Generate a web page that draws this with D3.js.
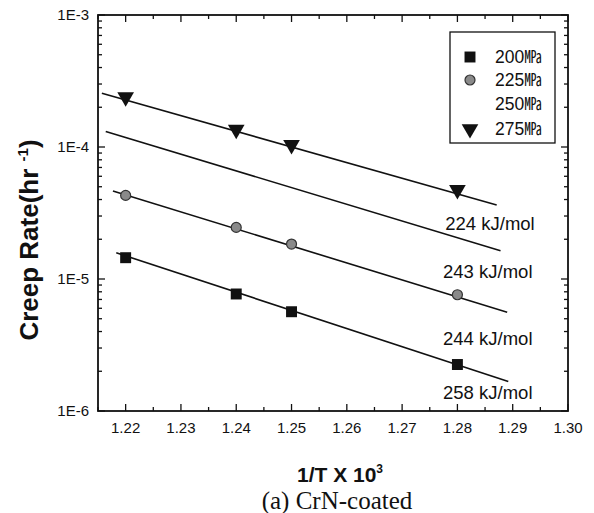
<!DOCTYPE html>
<html>
<head>
<meta charset="utf-8">
<script src="https://cdn.jsdelivr.net/npm/d3@7"></script>
<style>
  body { margin: 0; background: #fff; }
  text { font-family: Arial, "Liberation Sans", sans-serif; fill: #111; }
</style>
</head>
<body>
<svg id="chart" width="594" height="513"></svg>
<script>
// measured points (1/T x 10^3 vs creep rate)
const invT = [1.22, 1.24, 1.25, 1.28];
const rate200 = [1.45e-5, 7.7e-6, 5.65e-6, 2.25e-6];
const rate225 = [4.3e-5, 2.46e-5, 1.84e-5, 7.6e-6];
const rate275 = [2.35e-4, 1.33e-4, 1.02e-4, 4.65e-5];

// fitted lines: [start, end]
const fitX200 = [1.2183, 1.2892];
const fitY200 = [1.58e-5, 1.67e-6];
const fitX225 = [1.2177, 1.2890];
const fitY225 = [4.64e-5, 5.6e-6];
const fitX250 = [1.2164, 1.2878];
const fitY250 = [1.31e-4, 1.64e-5];
const fitX275 = [1.2157, 1.2871];
const fitY275 = [2.55e-4, 3.64e-5];

const energies = ["224 kJ/mol", "243 kJ/mol", "244 kJ/mol", "258 kJ/mol"];
const legendLabels = ["200㎫", "225㎫", "250㎫", "275㎫"];
const xTicks = [1.22, 1.23, 1.24, 1.25, 1.26, 1.27, 1.28, 1.29, 1.30];
const yTicks = [1e-6, 1e-5, 1e-4, 1e-3];

const svg = d3.select("#chart");
const pL = 98, pR = 568, pT = 15, pB = 411;

const x = d3.scaleLinear().domain([1.215, 1.30]).range([pL, pR]);
const y = d3.scaleLog().domain([1e-6, 1e-3]).range([pB, pT]);

// minor ticks
const xMinor = [1.215, 1.225, 1.235, 1.245, 1.255, 1.265, 1.275, 1.285, 1.295];
const yMinor = [];
[1e-6, 1e-5, 1e-4].forEach(d => { for (let k = 2; k <= 9; k++) yMinor.push(d * k); });

const g = svg.append("g").attr("stroke", "#111").attr("stroke-width", 1.3);
xTicks.forEach(v => {
  g.append("line").attr("x1", x(v)).attr("x2", x(v)).attr("y1", pB).attr("y2", pB - 7);
  g.append("line").attr("x1", x(v)).attr("x2", x(v)).attr("y1", pT).attr("y2", pT + 7);
});
xMinor.forEach(v => {
  g.append("line").attr("x1", x(v)).attr("x2", x(v)).attr("y1", pB).attr("y2", pB - 4);
  g.append("line").attr("x1", x(v)).attr("x2", x(v)).attr("y1", pT).attr("y2", pT + 4);
});
yTicks.forEach(v => {
  g.append("line").attr("x1", pL).attr("x2", pL + 7).attr("y1", y(v)).attr("y2", y(v));
  g.append("line").attr("x1", pR).attr("x2", pR - 7).attr("y1", y(v)).attr("y2", y(v));
});
yMinor.forEach(v => {
  g.append("line").attr("x1", pL).attr("x2", pL + 4).attr("y1", y(v)).attr("y2", y(v));
  g.append("line").attr("x1", pR).attr("x2", pR - 4).attr("y1", y(v)).attr("y2", y(v));
});

svg.append("rect")
  .attr("x", pL).attr("y", pT)
  .attr("width", pR - pL).attr("height", pB - pT)
  .attr("fill", "none").attr("stroke", "#111").attr("stroke-width", 1.8);

// tick labels
svg.append("g").selectAll("text").data(xTicks).join("text")
  .attr("x", d => x(d)).attr("y", 433)
  .attr("text-anchor", "middle").attr("font-size", 15)
  .text(d => d.toFixed(2));
svg.append("g").selectAll("text").data(yTicks).join("text")
  .attr("x", pL - 9).attr("y", d => y(d) + 5)
  .attr("text-anchor", "end").attr("font-size", 15)
  .text(d => "1E" + Math.round(Math.log10(d)));

// axis titles
const xt = svg.append("text").attr("x", 340).attr("y", 482)
  .attr("text-anchor", "middle").attr("font-size", 21).attr("font-weight", "bold");
xt.append("tspan").text("1/T X 10");
xt.append("tspan").attr("dy", -9).attr("font-size", 12).text("3");

const yt = svg.append("text").attr("transform", "translate(38,240) rotate(-90)")
  .attr("text-anchor", "middle").attr("font-size", 26).attr("font-weight", "bold");
yt.append("tspan").text("Creep Rate(hr ");
yt.append("tspan").attr("dy", -10).attr("font-size", 15).text("-1");
yt.append("tspan").attr("dy", 10).text(")");

svg.append("text").attr("x", 337).attr("y", 509)
  .attr("text-anchor", "middle").attr("font-size", 25)
  .style("font-family", "'Liberation Serif', 'Times New Roman', serif")
  .text("(a) CrN-coated");

// fit lines
const line = d3.line().x(d => x(d[0])).y(d => y(d[1]));
[[fitX200, fitY200], [fitX225, fitY225], [fitX250, fitY250], [fitX275, fitY275]].forEach(([fx, fy]) => {
  svg.append("path").attr("d", line(d3.zip(fx, fy)))
    .attr("fill", "none").attr("stroke", "#111").attr("stroke-width", 1.6);
});

// markers
const sq = d3.symbol().type(d3.symbolSquare).size(120);
const tri = d3.symbol().type(d3.symbolTriangle).size(120);
svg.append("g").selectAll("path").data(d3.zip(invT, rate200)).join("path")
  .attr("d", sq).attr("transform", d => `translate(${x(d[0])},${y(d[1])})`)
  .attr("fill", "#111");
svg.append("g").selectAll("circle").data(d3.zip(invT, rate225)).join("circle")
  .attr("cx", d => x(d[0])).attr("cy", d => y(d[1])).attr("r", 5)
  .attr("fill", "#8a8a8a").attr("stroke", "#333").attr("stroke-width", 1.2);
svg.append("g").selectAll("path").data(d3.zip(invT, rate275)).join("path")
  .attr("d", tri).attr("transform", d => `translate(${x(d[0])},${y(d[1]) - 1}) rotate(180)`)
  .attr("fill", "#111");

// activation energy labels
const labelPos = [[1.2778, 2.35e-5], [1.2774, 1.02e-5], [1.2774, 3.16e-6], [1.2774, 1.23e-6]];
svg.append("g").selectAll("text").data(energies).join("text")
  .attr("x", (d, i) => x(labelPos[i][0])).attr("y", (d, i) => y(labelPos[i][1]))
  .attr("font-size", 18.5).text(d => d);

// legend
const lg = svg.append("g");
lg.append("rect").attr("x", 450).attr("y", 32).attr("width", 105).attr("height", 111)
  .attr("fill", "#fff").attr("stroke", "#111").attr("stroke-width", 1.3);
const rowY = [57, 80, 104, 129];
lg.selectAll("text").data(legendLabels).join("text")
  .attr("x", 495).attr("y", (d, i) => rowY[i] + 6)
  .attr("font-size", 17.5)
  .style("font-family", "Arial, 'Liberation Sans', 'Noto Sans CJK KR', sans-serif")
  .text(d => d);
lg.append("path").attr("d", sq).attr("transform", `translate(470,${rowY[0]})`).attr("fill", "#111");
lg.append("circle").attr("cx", 470).attr("cy", rowY[1]).attr("r", 5)
  .attr("fill", "#8a8a8a").attr("stroke", "#333").attr("stroke-width", 1.2);
lg.append("path").attr("d", tri).attr("transform", `translate(470,${rowY[3]}) rotate(180)`).attr("fill", "#111");
</script>
</body>
</html>
